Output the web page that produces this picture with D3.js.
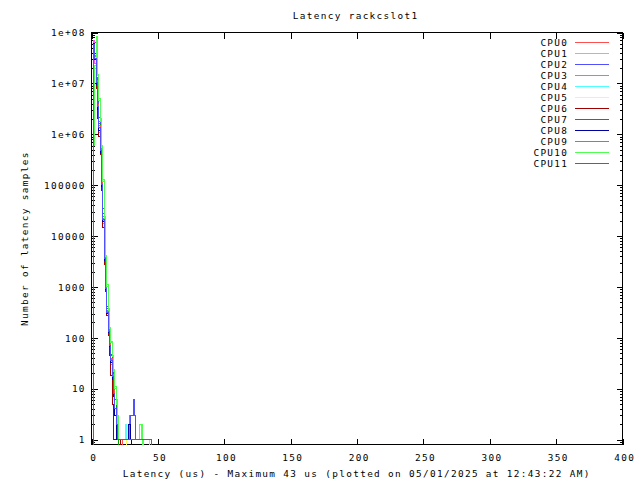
<!DOCTYPE html>
<html><head><meta charset="utf-8">
<script src="https://cdn.jsdelivr.net/npm/d3@7"></script>
<style>
body{margin:0;background:#fff}
svg{display:block}
text{font-family:"DejaVu Sans Mono","Liberation Mono",monospace;font-size:9.4px;letter-spacing:1.34px;fill:#000}
</style></head><body>
<svg id="chart" width="640" height="480"></svg>
<script>
const title = "Latency rackcslot1";
const xLabel = "Latency (us) - Maximum 43 us (plotted on 05/01/2025 at 12:43:22 AM)";
const yLabel = "Number of latency samples";
const seriesNames = ["CPU0","CPU1","CPU2","CPU3","CPU4","CPU5","CPU6","CPU7","CPU8","CPU9","CPU10","CPU11"];
const seriesColors = ["#ff5050","#50ff50","#5050ff","#ff50ff","#50ffff","#ffff50","#a00000","#00a000","#0000a0","#ff5050","#50ff50","#5050ff"];
// counts per latency class (index = latency in us)
const cpu0  = [0,0,5.5e7,3.6e7,1.1e7,3.5e6,1.8e6,6e5,1.1e5,2.2e4,3800,950,330,140,75,38,18,9,4,4,1,1,0,0,0,0,0,0,1,3,1];
const cpu1  = [0,0,8e5,2.2e7,8.3e7,1.5e7,5e6,2e6,6e5,1.3e5,2.4e4,4200,1100,380,160,85,45,24,11,6,3,1,1,0,0,0,0,0,0,0,0,0,0,0,0,0,0,1,2,1];
const cpu2  = [0,0,4.5e7,6.3e7,1.3e7,4.5e6,2.1e6,7e5,1.4e5,2.8e4,4500,1100,380,160,90,45,22,11,6,3,2,1,1,0,0,0,0,0,0,1,3,3,6,3,1,1,0,0,0,0,0,1];
const cpu3  = [0,0,7e7,2.5e7,9e6,3e6,1.1e6,4e5,9e4,1.8e4,3200,850,300,120,65,30,14,7,3,1,1];
const cpu4  = [0,0,6e7,3e7,1e7,3.4e6,1.3e6,4.6e5,1e5,2e4,3500,900,320,130,70,35,16,8,4,2,1,1,0,0,0,1,2,1,0,0,0,0,0,0,0,0,0,0,0,0,1,1,1,1];
const cpu5  = [0,0,5.8e7,3.2e7,1.05e7,3.6e6,1.4e6,4.8e5,1.05e5,2.1e4,3600,920,310,120,60,25,9,6,3,2,1,1,1,1,0,1];
const cpu6  = [0,0,5e7,3.8e7,8e6,2e6,9e5,4e5,8e4,1.5e4,2800,800,280,110,45,18,5,1,1,1,1,1];
const cpu7  = [0,0,5.5e7,3.3e7,1.1e7,3.8e6,1.6e6,5.5e5,1.3e5,3.5e4,5500,1300,420,180,95,48,24,12,6,3,1];
const cpu8  = [0,0,6.2e7,2.9e7,9.5e6,3.1e6,1.2e6,4.2e5,9.5e4,1.9e4,3300,880,300,125,66,33,15,7,3,1,1,1,1,0,0,0,0,1,2,2,1];
const cpu9  = [0,0,5.7e7,3.4e7,1.15e7,3.9e6,1.5e6,5.2e5,1.15e5,2.4e4,3900,980,340,145,78,39,19,10,4,2,1,0,1,1];
const cpu10 = [0,0,6e5,2e7,7.8e7,1.4e7,4.6e6,1.8e6,5.5e5,1.2e5,2.2e4,3900,1000,350,150,80,42,22,10,5,2,1,1,1,0,0,0,0,0,0,0,0,0,0,0,0,1,2,1];
const cpu11 = [0,0,5.9e7,3.1e7,1.05e7,3.5e6,1.35e6,4.7e5,1.05e5,2.1e4,3600,930,320,135,70,36,17,8,4,2,1,1,0,1,1,0,1,0,0,0,0,1,1,1,0,0,0,0,0,0,0,1];
const seriesValues = [cpu0,cpu1,cpu2,cpu3,cpu4,cpu5,cpu6,cpu7,cpu8,cpu9,cpu10,cpu11];
const xTickValues = [0,50,100,150,200,250,300,350,400];
const yTickValues = [1,10,100,1000,10000,100000,1e6,1e7,1e8];
const yTickLabels = ["1","10","100","1000","10000","100000","1e+06","1e+07","1e+08"];

const L = 91.5, R = 622.5, T = 32.5, B = 444.5;
const yMin = 0.8;
const LS = 1.34; // letter-spacing compensation
const svg = d3.select("#chart");
const x = d3.scaleLinear().domain([0,400]).range([L,R]);
const y = d3.scaleLog().domain([yMin,1e8]).range([B,T]);

svg.append("defs").append("clipPath").attr("id","clip")
  .append("rect").attr("x",L).attr("y",T-1).attr("width",R-L).attr("height",B-T+2);

// minor y ticks
const minor = [];
for (let e = -1; e < 8; e++) for (let m = 2; m <= 9; m++) { const v = m*Math.pow(10,e); if (v > yMin && v < 1e8) minor.push(v); }

const gx = svg.append("g").attr("transform",`translate(0,${B})`)
  .call(d3.axisBottom(x).tickValues(xTickValues).tickSizeInner(-6).tickSizeOuter(0).tickPadding(10).tickFormat(d3.format("d")));
gx.selectAll(".tick text").attr("dx",1 + LS/2);
const gxTop = svg.append("g").attr("transform",`translate(0,${T})`)
  .call(d3.axisTop(x).tickValues(xTickValues).tickSizeInner(-6).tickSizeOuter(0).tickFormat(""));
const gy = svg.append("g").attr("transform",`translate(${L},0)`)
  .call(d3.axisLeft(y).tickValues(yTickValues).tickSizeInner(-6).tickSizeOuter(0).tickPadding(7).tickFormat((d,i)=>yTickLabels[i]));
const gyMinor = svg.append("g").attr("transform",`translate(${L},0)`)
  .call(d3.axisLeft(y).tickValues(minor).tickSizeInner(-3).tickSizeOuter(0).tickFormat(""));
const gyR = svg.append("g").attr("transform",`translate(${R},0)`)
  .call(d3.axisRight(y).tickValues(yTickValues).tickSizeInner(-6).tickSizeOuter(0).tickFormat(""));
const gyRMinor = svg.append("g").attr("transform",`translate(${R},0)`)
  .call(d3.axisRight(y).tickValues(minor).tickSizeInner(-3).tickSizeOuter(0).tickFormat(""));
svg.selectAll(".domain").remove();
svg.selectAll(".tick line").attr("stroke","#000").attr("shape-rendering","crispEdges");
svg.selectAll(".tick text").attr("font-family",null).attr("font-size",null).attr("fill","#000");
gy.selectAll(".tick text").attr("dy","0.35em").attr("dx",LS);

// border
svg.append("rect").attr("x",L).attr("y",T).attr("width",R-L).attr("height",B-T)
  .attr("fill","none").attr("stroke","#000").attr("shape-rendering","crispEdges");

// gnuplot-like histeps (zero counts are undefined on a log axis and skipped)
function histeps(vals) {
  const pts = vals.map((v,i)=>({x:i,y:v})).filter(p=>p.y>0);
  const out = [];
  const n = pts.length;
  let cx = (3*pts[0].x - pts[1].x)/2;
  out.push([cx,yMin]);
  for (let i = 0; i < n-1; i++) {
    const xn = (pts[i].x + pts[i+1].x)/2;
    out.push([cx,pts[i].y]); out.push([xn,pts[i].y]);
    cx = xn;
  }
  const xl = (3*pts[n-1].x - pts[n-2].x)/2;
  out.push([cx,pts[n-1].y]); out.push([xl,pts[n-1].y]); out.push([xl,yMin]);
  return out;
}
const line = d3.line().x(d=>Math.round(x(d[0])-0.5)+0.5).y(d=>Math.round(y(d[1])-0.5)+0.5);
const plot = svg.append("g").attr("clip-path","url(#clip)");
seriesValues.forEach((vals,i)=>{
  plot.append("path").attr("d",line(histeps(vals))).attr("fill","none")
    .attr("stroke",seriesColors[i]).attr("stroke-width",1).attr("shape-rendering","crispEdges");
});

// legend
const leg = svg.append("g");
seriesNames.forEach((name,i)=>{
  const cy = 42.5 + 11*i;
  leg.append("text").attr("x",567 + LS).attr("y",cy).attr("dy","0.35em").attr("text-anchor","end").text(name);
  leg.append("line").attr("x1",575).attr("x2",609).attr("y1",cy).attr("y2",cy)
    .attr("stroke",seriesColors[i]).attr("stroke-width",1).attr("shape-rendering","crispEdges");
});

svg.append("text").attr("x",355 + LS/2).attr("y",19).attr("text-anchor","middle").text(title);
svg.append("text").attr("x",356 + LS/2).attr("y",477).attr("text-anchor","middle").text(xLabel);
svg.append("text").attr("transform",`translate(27.5,${238 + LS/2}) rotate(-90)`).attr("text-anchor","middle").text(yLabel);
</script>
</body></html>
